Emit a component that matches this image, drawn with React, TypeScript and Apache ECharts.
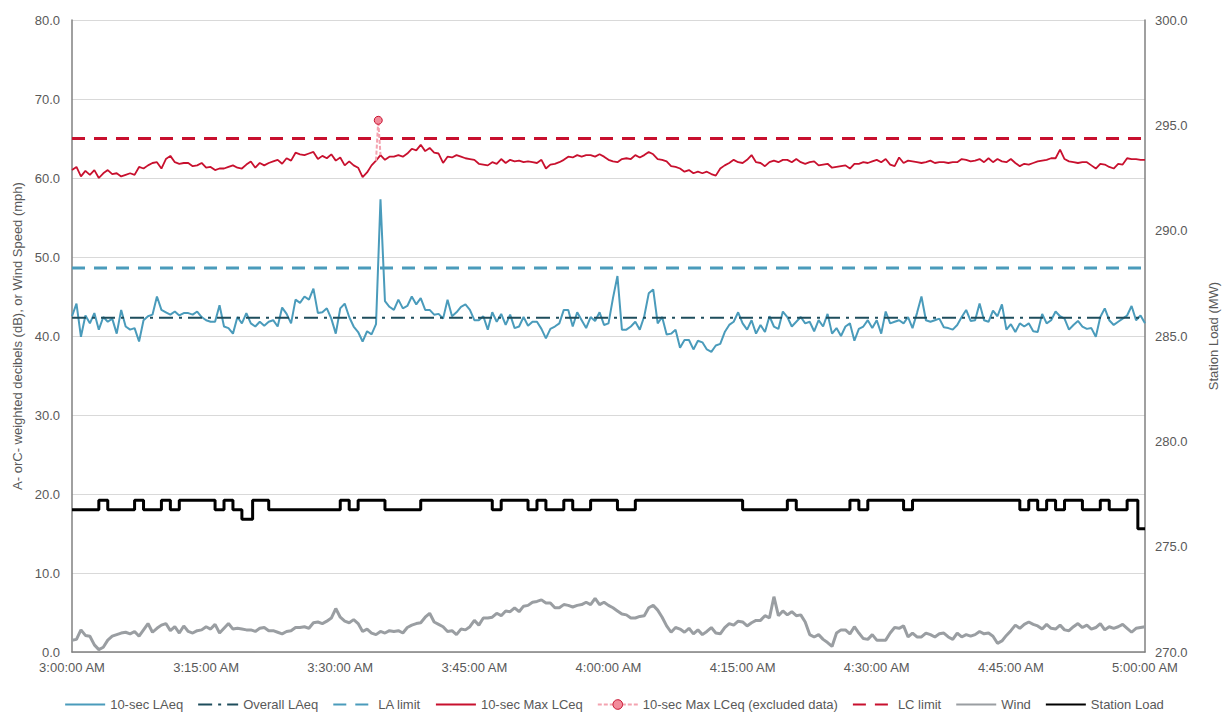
import React, { useEffect, useRef } from "react";
import * as echarts from "echarts";

// Minutes after 3:00:00 AM, one sample every 30 s
const STEP_MIN = 0.5;

const laeq = [
  42.5, 44.1, 39.9, 42.6, 41.6, 42.9, 40.8, 42.4, 41.8, 42.2,
  40.3, 43.3, 41.2, 40.8, 41.0, 39.3, 42.0, 42.5, 42.7, 45.0,
  43.3, 43.0, 42.7, 43.1, 42.6, 42.9, 42.9, 42.7, 43.1, 42.4,
  42.0, 41.8, 41.8, 43.9, 41.2, 41.0, 40.3, 42.4, 41.6, 42.9,
  41.6, 41.2, 41.8, 41.3, 41.8, 42.0, 41.2, 43.6, 42.8, 41.6,
  44.6, 44.2, 45.0, 44.6, 46.0, 42.9, 43.0, 43.5, 42.2, 40.3,
  43.5, 44.1, 42.4, 41.2, 40.5, 39.3, 40.6, 40.2, 41.5, 57.3,
  44.4, 43.7, 43.3, 44.6, 43.5, 43.8, 45.0, 44.0, 44.8, 43.3,
  43.3, 42.7, 42.8, 42.2, 44.6, 42.5, 43.0, 43.7, 44.0, 43.3,
  42.0, 42.0, 42.5, 40.8, 43.0, 41.8, 42.8, 41.4, 42.7, 41.0,
  41.2, 42.4, 41.3, 41.8, 41.8, 40.9, 39.7, 40.9, 41.2, 41.6,
  43.3, 43.3, 41.2, 43.0, 42.0, 41.0, 42.4, 41.9, 43.0, 41.4,
  41.6, 44.8, 47.6, 40.8, 40.8, 41.2, 41.8, 40.8, 42.5, 45.4,
  45.9, 41.6, 42.4, 40.2, 40.3, 40.8, 38.5, 39.5, 39.5, 38.3,
  39.4, 39.2, 38.3, 38.0, 38.8, 39.0, 40.5, 41.4, 41.8, 43.0,
  41.6, 40.8, 42.0, 40.3, 41.4, 40.5, 42.5, 41.2, 40.9, 43.1,
  42.4, 41.2, 41.8, 42.4, 41.6, 41.8, 40.6, 42.0, 41.2, 42.8,
  40.3, 41.0, 40.0, 41.2, 41.6, 39.4, 40.9, 41.2, 42.0, 41.0,
  42.0, 40.3, 43.1, 41.6, 41.8, 42.0, 41.6, 42.4, 41.0, 42.9,
  45.0, 42.0, 41.8, 42.0, 42.2, 41.1, 41.0, 40.8, 41.4, 42.4,
  43.3, 41.9, 42.0, 44.1, 42.0, 41.8, 43.2, 42.5, 44.0, 40.8,
  41.5, 40.5, 41.6, 41.2, 41.6, 40.6, 40.5, 42.8, 41.6, 42.0,
  43.1, 42.5, 42.2, 40.8, 41.4, 41.9, 41.2, 40.9, 41.0, 39.9,
  42.4, 43.5, 42.0, 41.4, 41.8, 42.2, 42.6, 43.8, 42.0, 42.6,
  41.6,
];

const lceq = [
  61.0, 61.4, 60.2, 60.9, 60.4, 61.0, 60.0, 60.6, 61.0, 60.5,
  60.6, 60.2, 60.4, 60.6, 60.4, 61.4, 61.2, 61.6, 61.9, 62.0,
  61.2, 62.4, 62.8, 62.0, 61.8, 61.9, 61.9, 61.5, 61.6, 61.9,
  61.3, 61.4, 61.0, 61.2, 61.2, 61.4, 61.6, 61.3, 61.2, 61.7,
  62.1, 61.3, 61.9, 61.6, 61.9, 62.1, 62.3, 61.8, 62.5, 62.2,
  63.2, 63.0, 62.9, 63.1, 63.3, 62.4, 62.8, 62.5, 63.0, 62.2,
  62.6, 61.6, 62.1, 61.6, 61.3, 60.1, 60.7, 61.6, 62.2, 62.9,
  62.3, 62.7, 62.7, 62.9, 62.7, 63.1, 63.7, 63.5, 64.2, 63.4,
  63.8, 63.2, 63.1, 61.9, 62.7, 62.6, 62.9, 62.7, 62.5, 62.4,
  62.3, 61.8, 61.7, 61.6, 62.0, 61.8, 62.4, 61.9, 62.3, 62.1,
  62.2, 62.0, 62.1, 62.0, 61.9, 62.3, 61.2, 61.7, 61.8, 62.0,
  62.3, 62.7, 62.6, 62.9, 62.7, 62.9, 62.9, 62.7, 63.0, 62.7,
  62.3, 62.1, 62.0, 62.4, 62.5, 62.4, 62.9, 62.6, 62.9, 63.3,
  63.0, 62.4, 62.3, 62.1, 61.5, 61.4, 61.2, 60.8, 61.0, 60.6,
  60.8, 60.6, 60.8, 60.5, 60.3, 61.2, 61.6, 61.9, 62.3, 62.0,
  61.9, 62.3, 62.9, 62.0, 61.9, 61.5, 62.0, 62.2, 62.0, 62.3,
  62.3, 62.0, 62.4, 62.0, 61.8, 62.0, 62.1, 61.6, 61.7, 61.8,
  61.3, 61.4, 61.5, 61.6, 61.2, 61.8, 61.8, 62.0, 61.9, 62.1,
  62.3, 62.0, 62.4, 61.7, 61.5, 62.6, 61.9, 62.2, 62.1, 62.0,
  61.9, 62.0, 62.2, 61.9, 62.0, 62.0, 61.9, 62.0, 62.0, 62.4,
  62.3, 62.1, 62.2, 62.4, 62.0, 62.5, 62.0, 62.4, 62.1, 62.0,
  62.4, 61.9, 61.5, 61.8, 61.7, 61.9, 62.1, 62.2, 62.3, 62.5,
  62.5, 63.6, 62.4, 62.1, 62.0, 61.9, 62.0, 62.0, 61.6, 61.2,
  61.8, 61.7, 61.4, 61.2, 61.8, 61.7, 62.5, 62.4, 62.4, 62.3,
  62.3,
];

// Excluded LCeq samples: [minute, dB]
const excludedTimes = [34.0, 34.25, 34.5];
const excludedValues = [62.2, 67.3, 62.9];

const wind = [
  1.5, 1.6, 2.8, 2.1, 2.0, 0.9, 0.3, 0.6, 1.5, 2.0,
  2.2, 2.4, 2.5, 2.3, 2.6, 2.0, 2.8, 3.6, 2.5, 3.0,
  3.4, 3.6, 2.7, 3.2, 2.4, 3.3, 2.6, 2.4, 2.7, 2.8,
  3.2, 2.9, 3.5, 2.4, 3.0, 3.6, 2.9, 3.0, 2.9, 2.8,
  2.8, 2.6, 3.0, 3.1, 2.7, 2.7, 2.5, 2.3, 2.6, 2.7,
  3.1, 3.1, 3.2, 3.0, 3.7, 3.8, 3.6, 3.9, 4.3, 5.5,
  4.4, 3.9, 3.7, 4.1, 3.6, 2.6, 2.9, 2.4, 2.2, 2.6,
  2.4, 2.7, 2.6, 2.7, 2.4, 3.1, 3.4, 3.6, 3.7, 4.4,
  4.9, 3.8, 3.5, 3.2, 2.6, 2.7, 2.2, 2.9, 2.8, 3.2,
  4.0, 3.4, 4.3, 4.3, 4.4, 4.9, 4.6, 5.2, 5.1, 5.6,
  5.1, 5.8, 5.9, 6.3, 6.4, 6.6, 6.2, 6.2, 5.6, 5.6,
  6.0, 5.9, 5.7, 5.9, 6.0, 6.3, 6.0, 6.8, 6.0, 6.3,
  5.9, 5.6, 5.2, 4.8, 4.7, 4.3, 4.3, 4.5, 4.6, 5.6,
  5.9, 5.3, 4.4, 3.3, 2.5, 3.1, 2.9, 2.5, 3.0, 2.3,
  2.8, 2.2, 2.6, 3.1, 2.4, 2.3, 3.1, 3.6, 3.4, 3.9,
  3.8, 3.3, 3.7, 4.0, 4.0, 4.6, 4.3, 7.0, 4.6, 5.2,
  4.7, 5.1, 4.6, 4.7, 3.8, 2.2, 1.9, 2.2, 1.6, 1.2,
  0.7, 2.4, 2.8, 2.8, 2.3, 3.2, 2.4, 1.7, 1.6, 2.2,
  1.5, 1.5, 1.5, 2.4, 3.1, 3.0, 3.3, 1.9, 2.4, 1.9,
  1.9, 2.4, 2.2, 1.9, 2.3, 2.4, 1.9, 1.6, 2.4, 1.9,
  2.2, 2.0, 2.2, 2.6, 2.3, 2.4, 2.0, 1.1, 1.4, 2.1,
  2.7, 3.4, 3.0, 3.5, 3.8, 3.5, 3.3, 2.9, 3.5, 3.0,
  2.9, 3.4, 2.8, 2.7, 3.2, 3.6, 3.1, 3.4, 2.9, 3.1,
  3.6, 2.8, 3.2, 3.0, 3.2, 3.5, 3.0, 2.5, 3.0, 3.1,
  3.2,
];

// Station load (MW): value holds from each time until the next
const loadTimes = [
  0, 3, 4, 7, 8, 10, 11, 12, 16, 17, 18, 19, 20.2, 22, 30, 31, 32, 35, 39,
  47, 48, 51, 52, 53, 55, 56, 58, 61, 63, 75, 80, 81, 87, 88, 89, 93, 94,
  106, 107, 108, 109, 110, 111, 113, 115, 116, 118, 119.2, 120,
];
const loadValues = [
  276.75, 277.2, 276.75, 277.2, 276.75, 277.2, 276.75, 277.2, 276.75, 277.2,
  276.75, 276.3, 277.2, 276.75, 277.2, 276.75, 277.2, 276.75, 277.2,
  276.75, 277.2, 276.75, 277.2, 276.75, 277.2, 276.75, 277.2, 276.75, 277.2,
  276.75, 277.2, 276.75, 277.2, 276.75, 277.2, 276.75, 277.2,
  276.75, 277.2, 276.75, 277.2, 276.75, 277.2, 276.75, 277.2, 276.75, 277.2,
  275.85, 275.85,
];

const overallLAeq = 42.3;
const laLimit = 48.6;
const lcLimit = 65.0;

const xTicks = { min: 0, max: 120, interval: 15 };

const FONT = "Liberation Sans";
const TEXT = "#595959";

function fmtTime(v: number): string {
  const h = 3 + Math.floor(v / 60);
  const m = Math.round(v % 60);
  return `${h}:${String(m).padStart(2, "0")}:00 AM`;
}

export default function App() {
  const ref = useRef<HTMLDivElement>(null);
  useEffect(() => {
    if (!ref.current) return;
    const chart = echarts.init(ref.current, undefined, { renderer: "svg" });
    const toXY = (arr: number[]) => arr.map((v, i) => [i * STEP_MIN, v]);
    const flat = (v: number) => [
      [xTicks.min, v],
      [xTicks.max, v],
    ];
    const teal = "#4a9bbb";
    const red = "#c8102e";
    chart.setOption({
      animation: false,
      textStyle: { fontFamily: FONT },
      grid: { left: 72, right: 78, top: 20, bottom: 61 },
      legend: {
        bottom: -3,
        left: "center",
        itemWidth: 40,
        itemHeight: 12,
        itemGap: 14,
        textStyle: { color: TEXT, fontSize: 13, fontFamily: FONT },
        itemStyle: { color: "rgba(0,0,0,0)", borderColor: "rgba(0,0,0,0)", borderWidth: 0 },
        data: [
          "10-sec LAeq",
          "Overall LAeq",
          "LA limit",
          "10-sec Max LCeq",
          {
            name: "10-sec Max LCeq (excluded data)",
            itemStyle: { color: "#f28b9b", borderColor: red, borderWidth: 1 },
          },
          "LC limit",
          "Wind",
          "Station Load",
        ],
      },
      xAxis: {
        type: "value",
        min: xTicks.min,
        max: xTicks.max,
        interval: xTicks.interval,
        axisLine: { show: true, lineStyle: { color: "#808080", width: 1.5 } },
        axisTick: { show: false },
        splitLine: { show: false },
        axisLabel: {
          formatter: (v: number) => fmtTime(v),
          color: TEXT,
          fontSize: 13,
          lineHeight: 14,
          margin: 8,
          fontFamily: FONT,
        },
      },
      yAxis: [
        {
          type: "value",
          min: 0,
          max: 80,
          interval: 10,
          axisLine: { show: true, lineStyle: { color: "#808080", width: 1.5 } },
          axisTick: { show: false },
          splitLine: { show: true, lineStyle: { color: "#d9d9d9", width: 1 } },
          axisLabel: {
            formatter: (v: number) => v.toFixed(1),
            color: TEXT,
            fontSize: 13,
            lineHeight: 13,
            margin: 12,
            fontFamily: FONT,
          },
          name: "A- orC- weighted decibels (dB), or Wind Speed (mph)",
          nameLocation: "middle",
          nameGap: 45,
          nameRotate: 90,
          nameTextStyle: { color: TEXT, fontSize: 13, fontFamily: FONT },
        },
        {
          type: "value",
          position: "right",
          min: 270,
          max: 300,
          interval: 5,
          axisLine: { show: true, lineStyle: { color: "#808080", width: 1.5 } },
          axisTick: { show: false },
          splitLine: { show: false },
          axisLabel: {
            formatter: (v: number) => v.toFixed(1),
            color: TEXT,
            fontSize: 13,
            lineHeight: 13,
            margin: 10,
            fontFamily: FONT,
          },
          name: "Station Load (MW)",
          nameLocation: "middle",
          nameGap: 62,
          nameRotate: 90,
          nameTextStyle: { color: TEXT, fontSize: 13, fontFamily: FONT },
        },
      ],
      series: [
        {
          name: "10-sec LAeq",
          type: "line",
          data: toXY(laeq),
          symbol: "none",
          color: teal,
          lineStyle: { color: teal, width: 2 },
          z: 3,
        },
        {
          name: "Overall LAeq",
          type: "line",
          data: flat(overallLAeq),
          symbol: "none",
          color: "#1e4d5c",
          lineStyle: { color: "#1e4d5c", width: 2, type: [14, 6, 3, 6] },
          z: 4,
        },
        {
          name: "LA limit",
          type: "line",
          data: flat(laLimit),
          symbol: "none",
          color: teal,
          lineStyle: { color: teal, width: 3, type: [13, 9] },
          z: 3,
        },
        {
          name: "10-sec Max LCeq",
          type: "line",
          data: toXY(lceq),
          symbol: "none",
          color: red,
          lineStyle: { color: red, width: 1.8 },
          z: 3,
        },
        {
          name: "10-sec Max LCeq (excluded data)",
          type: "line",
          data: excludedTimes.map((t, i) =>
            i === 1
              ? { value: [t, excludedValues[i]] }
              : { value: [t, excludedValues[i]], symbol: "none" }
          ),
          symbol: "circle",
          symbolSize: 8,
          showSymbol: true,
          color: "#f28b9b",
          itemStyle: { color: "#f28b9b", borderColor: red, borderWidth: 1 },
          lineStyle: { color: "#f4a3b0", width: 2, type: [4, 2] },
          z: 5,
        },
        {
          name: "LC limit",
          type: "line",
          data: flat(lcLimit),
          symbol: "none",
          color: red,
          lineStyle: { color: red, width: 3, type: [13, 9] },
          z: 3,
        },
        {
          name: "Wind",
          type: "line",
          data: toXY(wind),
          symbol: "none",
          color: "#9a9ea2",
          lineStyle: { color: "#9a9ea2", width: 3 },
          z: 3,
        },
        {
          name: "Station Load",
          type: "line",
          yAxisIndex: 1,
          step: "end",
          data: loadTimes.map((t, i) => [t, loadValues[i]]),
          symbol: "none",
          color: "#000000",
          lineStyle: { color: "#000000", width: 3 },
          z: 3,
        },
      ],
    });
    return () => chart.dispose();
  }, []);
  return (
    <div
      ref={ref}
      style={{ position: "absolute", left: 0, top: 0, width: 1228, height: 713 }}
    />
  );
}
